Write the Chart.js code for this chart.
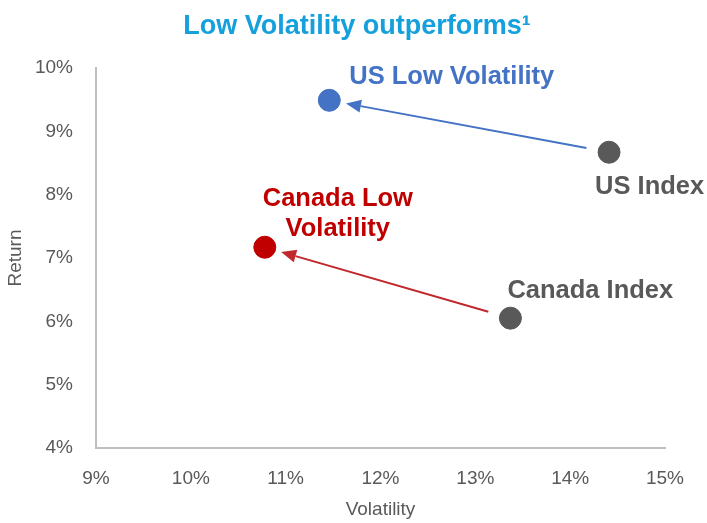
<!DOCTYPE html>
<html>
<head>
<meta charset="utf-8">
<script src="https://cdn.jsdelivr.net/npm/chart.js@4"></script>
<style>
  html, body { margin: 0; padding: 0; background: #fff; }
  #wrap { width: 707px; height: 523px; }
</style>
</head>
<body>
<div id="wrap"><canvas id="myChart" width="707" height="523"></canvas></div>
<script>
const seriesNames = ['US Low Volatility', 'US Index', 'Canada Low Volatility', 'Canada Index'];
const volatility = [11.46, 14.41, 10.78, 13.37];
const returns = [9.49, 8.67, 7.17, 6.05];
const xTicks = [9, 10, 11, 12, 13, 14, 15];
const yTicks = [4, 5, 6, 7, 8, 9, 10];
const pointColors = ['#4472C4', '#595959', '#C00000', '#595959'];
const chartTitle = 'Low Volatility outperforms\u00b9';

// label text lines per point, plus where they sit relative to the point
const labelLines = [['US Low Volatility'], ['US Index'], ['Canada Low', 'Volatility'], ['Canada Index']];
const labelStyle = [
    { dx: 20, dy: -23, align: 'left', color: '#4472C4' },
    { dx: -14, dy: 35, align: 'left', color: '#595959' },
    { dx: 73, dy: -48, align: 'center', color: '#C00000' },
    { dx: -3, dy: -27, align: 'left', color: '#595959' }
];
// arrows go from index point to low volatility point
const arrows = [
    { from: 1, to: 0, color: '#4472C4' },
    { from: 3, to: 2, color: '#C0282D' }
];

const annotate = {
    id: 'annotate',
    afterDatasetsDraw(chart) {
        const ctx = chart.ctx;
        const xs = chart.scales.x, ys = chart.scales.y;
        const px = i => xs.getPixelForValue(volatility[i]);
        const py = i => ys.getPixelForValue(returns[i]);

        // title, a little right of the canvas centre like the original
        ctx.save();
        ctx.font = 'bold 27px "Liberation Sans", Arial, sans-serif';
        ctx.fillStyle = '#14A0DC';
        ctx.textAlign = 'center';
        ctx.textBaseline = 'middle';
        ctx.fillText(chartTitle, 357, 27);
        ctx.restore();

        arrows.forEach(a => {
            const x1 = px(a.from), y1 = py(a.from), x2 = px(a.to), y2 = py(a.to);
            const ang = Math.atan2(y2 - y1, x2 - x1);
            const sx = x1 + Math.cos(ang) * 23, sy = y1 + Math.sin(ang) * 23;
            const ex = x2 - Math.cos(ang) * 17, ey = y2 - Math.sin(ang) * 17;
            const head = 15, wing = 6.5;
            const bx = ex - Math.cos(ang) * head, by = ey - Math.sin(ang) * head;
            ctx.save();
            ctx.strokeStyle = a.color;
            ctx.fillStyle = a.color;
            ctx.lineWidth = 2;
            ctx.beginPath();
            ctx.moveTo(sx, sy);
            ctx.lineTo(bx, by);
            ctx.stroke();
            ctx.beginPath();
            ctx.moveTo(ex, ey);
            ctx.lineTo(bx + Math.sin(ang) * wing, by - Math.cos(ang) * wing);
            ctx.lineTo(bx - Math.sin(ang) * wing, by + Math.cos(ang) * wing);
            ctx.closePath();
            ctx.fill();
            ctx.restore();
        });

        ctx.save();
        ctx.font = 'bold 25.5px "Liberation Sans", Arial, sans-serif';
        ctx.textBaseline = 'middle';
        labelLines.forEach((lines, i) => {
            const st = labelStyle[i];
            ctx.fillStyle = st.color;
            ctx.textAlign = st.align;
            lines.forEach((t, k) => {
                ctx.fillText(t, px(i) + st.dx, py(i) + st.dy + k * 30);
            });
        });
        ctx.restore();
    }
};

const ctx = document.getElementById('myChart').getContext('2d');
const chart = new Chart(ctx, {
    type: 'scatter',
    data: {
        datasets: [{
            label: 'Points',
            data: volatility.map((v, i) => ({ x: v, y: returns[i] })),
            backgroundColor: pointColors,
            borderColor: pointColors,
            pointRadius: 11,
            pointHoverRadius: 11
        }]
    },
    options: {
        responsive: false,
        animation: false,
        layout: { padding: { left: 0, right: 42, top: 68, bottom: 0 } },
        plugins: {
            legend: { display: false },
            tooltip: { enabled: false },
            title: { display: false }
        },
        scales: {
            x: {
                type: 'linear',
                min: xTicks[0],
                max: xTicks[xTicks.length - 1],
                afterBuildTicks: s => { s.ticks = xTicks.map(v => ({ value: v })); },
                afterFit: s => { s.height = 75; },
                grid: { color: 'rgba(0,0,0,0)', drawTicks: false },
                border: { display: true, color: '#BFBFBF', width: 2 },
                ticks: {
                    padding: 19,
                    color: '#595959',
                    font: { family: '"Liberation Sans", Arial, sans-serif', size: 19 },
                    callback: v => v + '%'
                },
                title: {
                    display: true,
                    text: 'Volatility',
                    color: '#595959',
                    font: { family: '"Liberation Sans", Arial, sans-serif', size: 19 },
                    padding: { top: 2, bottom: 2 }
                }
            },
            y: {
                type: 'linear',
                min: yTicks[0],
                max: yTicks[yTicks.length - 1],
                afterBuildTicks: s => { s.ticks = yTicks.map(v => ({ value: v })); },
                afterFit: s => { s.width = 96; },
                grid: { color: 'rgba(0,0,0,0)', drawTicks: false },
                border: { display: true, color: '#BFBFBF', width: 2 },
                ticks: {
                    padding: 23,
                    color: '#595959',
                    font: { family: '"Liberation Sans", Arial, sans-serif', size: 19 },
                    callback: v => v + '%'
                },
                title: {
                    display: true,
                    text: 'Return',
                    color: '#595959',
                    font: { family: '"Liberation Sans", Arial, sans-serif', size: 19 },
                    padding: { top: 4, bottom: 2 }
                }
            }
        }
    },
    plugins: [annotate]
});
</script>
</body>
</html>
